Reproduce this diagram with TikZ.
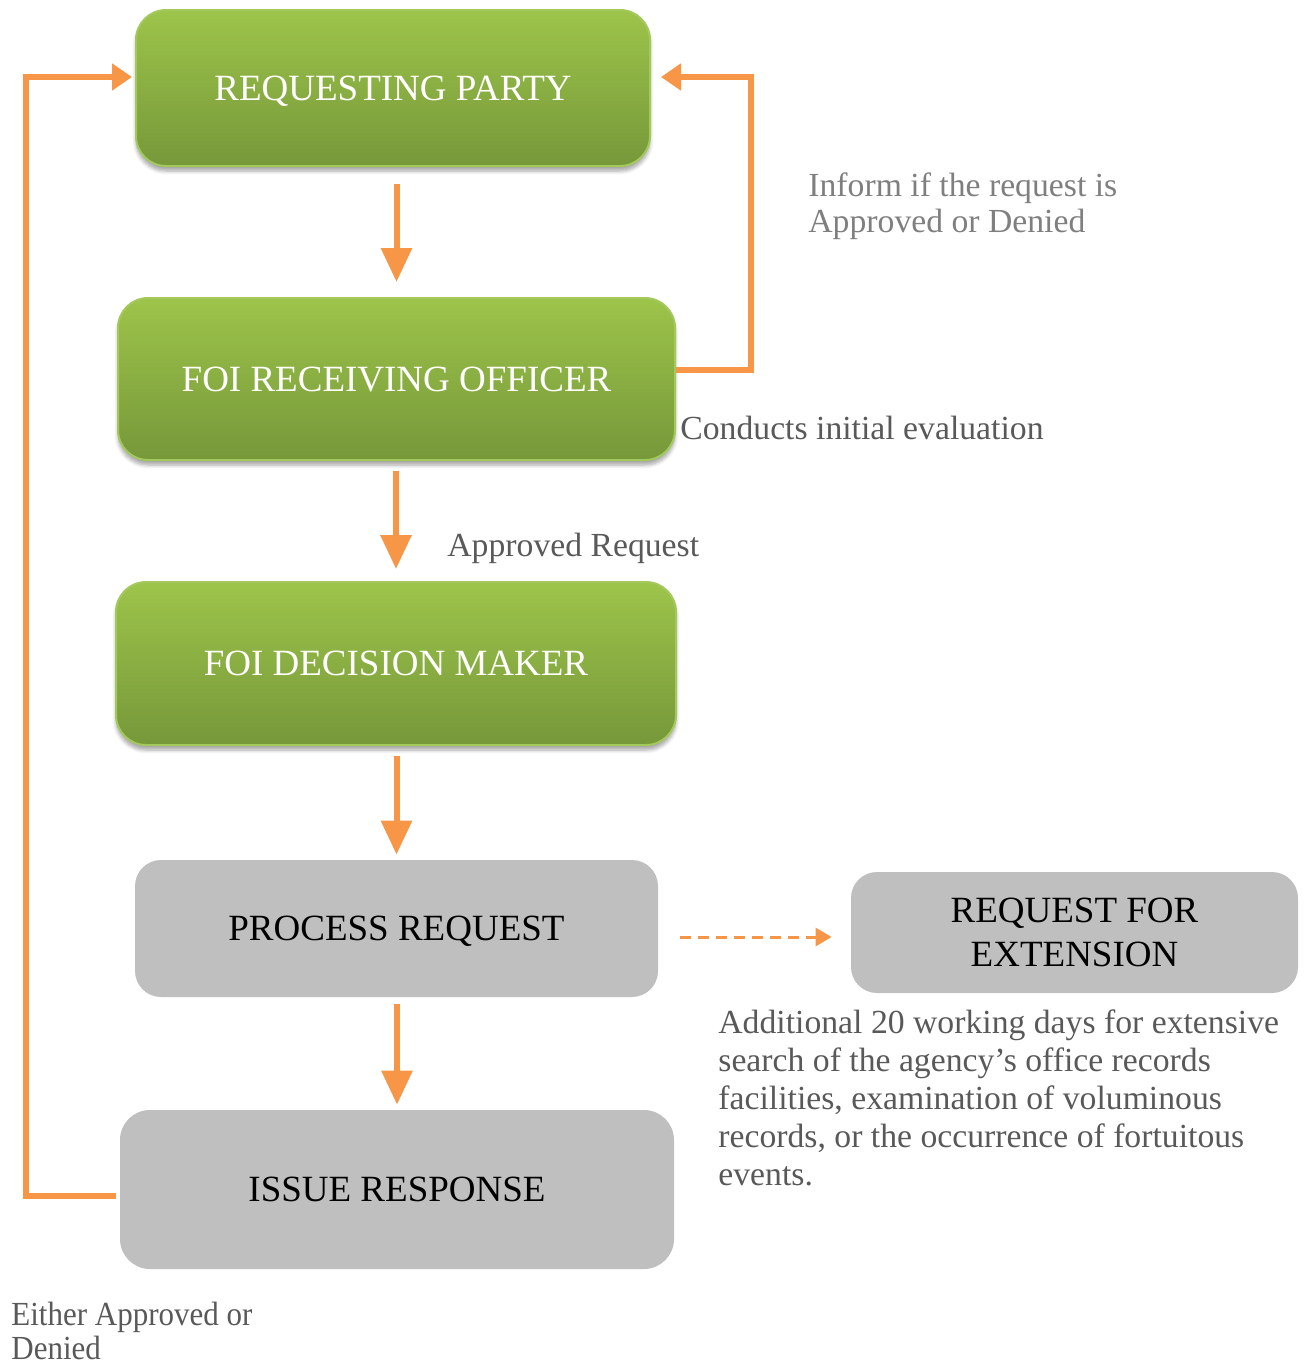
\documentclass[tikz,border=0pt]{standalone}
\usepackage{fontspec}
\setmainfont{Liberation Serif}
\newfontfamily\condfont[FakeStretch=0.92]{Liberation Serif}
\usetikzlibrary{arrows.meta,shadows.blur,calc}
\definecolor{gtop}{HTML}{9DC44A}
\definecolor{gbot}{HTML}{76983A}
\definecolor{gline}{HTML}{A3C95C}
\definecolor{gbox}{HTML}{BFBFBF}
\definecolor{orng}{HTML}{F79646}
\definecolor{lbl}{HTML}{595959}
\definecolor{lbltwo}{HTML}{7F7F7F}
\begin{document}
\begin{tikzpicture}[x=0.5pt,y=-0.5pt,
 greenbox/.style={rectangle, rounded corners=15pt, top color=gtop, bottom color=gbot, draw=gline, line width=1pt, text=white, font=\fontsize{18.5}{22}\selectfont, text height=12.2pt, text depth=0pt, blur shadow={shadow xshift=0pt, shadow yshift=-2.5pt, shadow blur steps=6, shadow opacity=35}, inner sep=0pt},
 graybox/.style={rectangle, rounded corners=13pt, fill=gbox, text=black, font=\fontsize{18.5}{22}\selectfont, inner sep=0pt, align=center},
 flow/.style={draw=orng, line width=3pt, -{Triangle[length=17pt,width=15pt]}},
 loopline/.style={draw=orng, line width=3pt, -{Triangle[length=10pt,width=13pt]}},
 dashline/.style={draw=orng, line width=1.5pt, dash pattern=on 5.5pt off 3.5pt, -{Triangle[length=8pt,width=9pt]}},
 note/.style={font=\fontsize{16.85}{18}\selectfont, text=lbl, inner sep=0pt, align=left}
]
\useasboundingbox (0,0) rectangle (1309,1365);
\node[greenbox, minimum width=257pt, minimum height=78pt] (rp) at (393,88) {REQUESTING PARTY};
\node[greenbox, minimum width=278.5pt, minimum height=81pt] (fro) at (396.5,379) {FOI RECEIVING OFFICER};
\node[greenbox, minimum width=280pt, minimum height=81.5pt] (fdm) at (396,663.5) {FOI DECISION MAKER};
\node[graybox, text height=12.2pt, text depth=0pt, minimum width=261.5pt, minimum height=68.5pt] (pr) at (396.5,928.5) {PROCESS REQUEST};
\node[graybox, text depth=-4pt, minimum width=223.5pt, minimum height=60.5pt] (rfe) at (1074.5,932.5) {REQUEST FOR\\EXTENSION};
\node[graybox, text height=12.2pt, text depth=0pt, rounded corners=15pt, minimum width=277pt, minimum height=79.5pt] (ir) at (397,1189.5) {ISSUE RESPONSE};

\draw[flow, shorten <=8.5pt, shorten >=7.5pt] (fro.north |- rp.south) -- (fro.north);
\draw[flow, shorten <=5pt, shorten >=6pt] (fdm.north |- fro.south) -- (fdm.north);
\draw[flow, shorten <=5pt, shorten >=2.5pt] (pr.north |- fdm.south) -- (pr.north);
\draw[flow, shorten <=3.5pt, shorten >=2.5pt] (ir.north |- pr.south) -- (ir.north);

\draw[loopline] ([yshift=4.5pt]fro.east) -- ++(37.5pt,0) |- ([yshift=5.5pt,xshift=5pt]rp.east);
\draw[loopline] ([xshift=-2pt,yshift=-3.25pt]ir.west) -- ++(-45pt,0) |- ([yshift=5.5pt,xshift=-1.5pt]rp.west);
\draw[dashline] ([xshift=11pt,yshift=-4.25pt]pr.east) -- ([xshift=-9.5pt,yshift=-2.25pt]rfe.west);

\node[note, text=lbltwo, anchor=base west] (inf) at (808,232) {Inform if the request is\\Approved or Denied};
\node[note, anchor=base west] (cie) at (680,439) {Conducts initial evaluation};
\node[note, anchor=base west] (apr) at (447,556) {Approved Request};
\node[note, font=\fontsize{16.85}{19}\selectfont, anchor=base west] (add) at (718,1185) {Additional 20 working days for extensive\\search of the agency’s office records\\facilities, examination of voluminous\\records, or the occurrence of fortuitous\\events.};
\node[note, font=\condfont\fontsize{16.85}{17}\selectfont, anchor=base west] (eit) at (11,1359) {Either Approved or\\Denied};
\end{tikzpicture}
\end{document}
